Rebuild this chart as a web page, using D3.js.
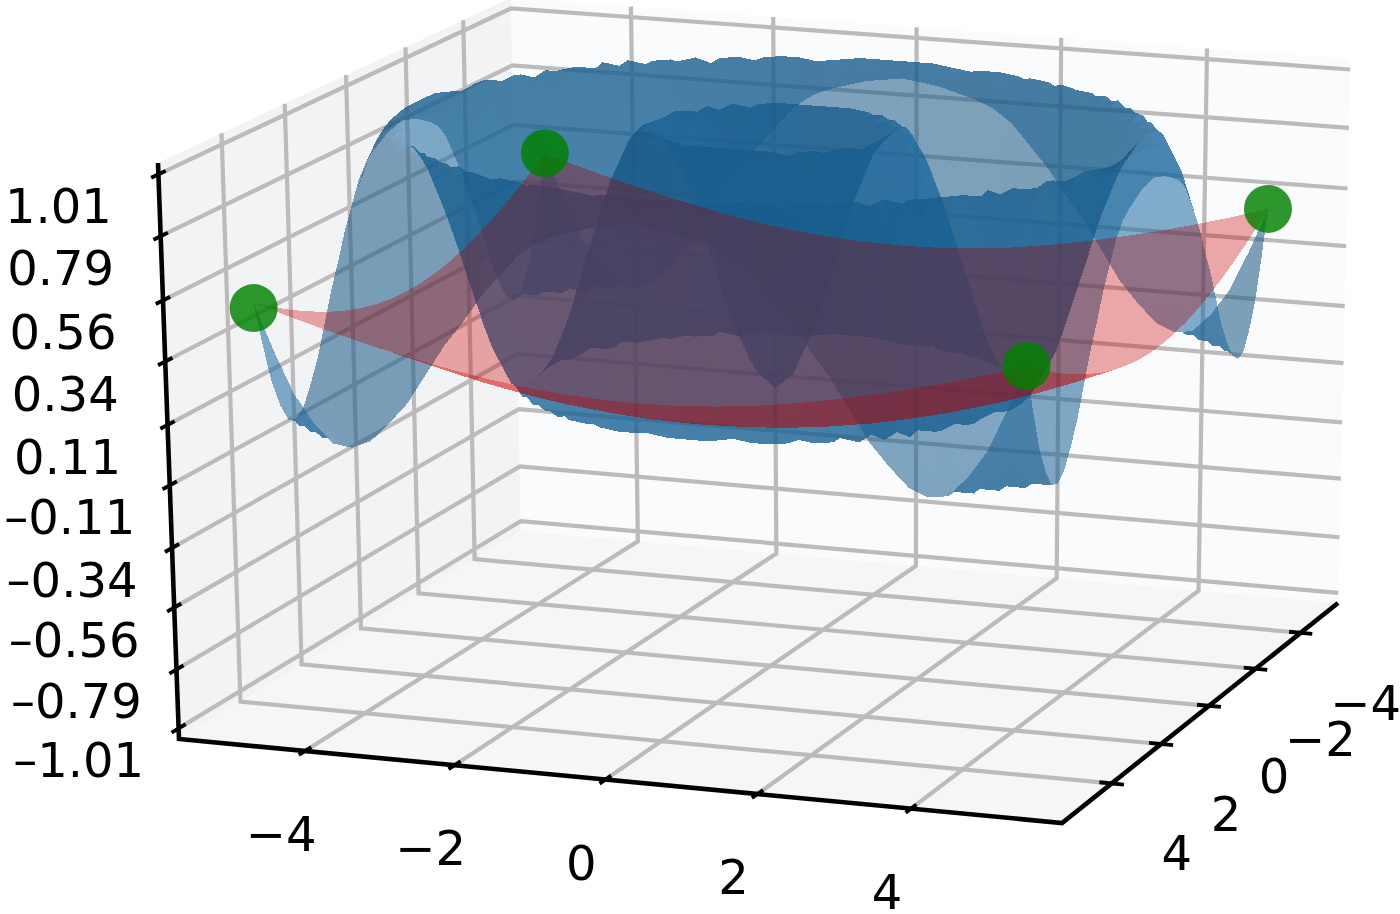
<!DOCTYPE html>
<html>
<head>
<meta charset="utf-8">
<script src="https://cdn.jsdelivr.net/npm/d3@7"></script>
<style>
  html, body { margin: 0; background: #fff; }
  svg { display: block; }
  text { font-family: "DejaVu Sans", sans-serif; font-size: 48px; fill: #000; }
</style>
</head>
<body>
<svg></svg>
<script>
// tick values and labels
let xTicks = [-4, -2, 0, 2, 4]
let yTicks = [-4, -2, 0, 2, 4]
let zTicks = [-1.01, -0.79, -0.56, -0.34, -0.11, 0.11, 0.34, 0.56, 0.79, 1.01]

// blue surface, heights. It is a set of rings, so one
// quadrant is read (|x|, |y| = blueSteps) and mirrored to the other three
let blueSteps = [0, .25, .5, .75, 1, 1.25, 1.5, 1.75, 2, 2.25, 2.5, 2.75, 3, 3.25, 3.5, 3.75, 4, 4.25, 4.5, 4.75, 5]
let blueHeights = [
  [0, .06, .22, .46, .69, .87, .97, .94, .81, .59, .35, .14, .02, .01, .12, .32, .55, .78, .93, .97, .89],
  [.06, .12, .27, .49, .72, .89, .97, .93, .79, .57, .34, .14, .02, .01, .13, .32, .56, .79, .93, .97, .88],
  [.22, .27, .41, .59, .79, .92, .97, .91, .76, .53, .30, .11, .01, .02, .15, .35, .59, .80, .94, .97, .87],
  [.46, .49, .59, .74, .87, .96, .96, .86, .69, .48, .25, .08, 0, .04, .17, .39, .62, .82, .95, .96, .85],
  [.69, .72, .79, .87, .95, .97, .92, .79, .60, .39, .18, .05, 0, .07, .22, .44, .67, .85, .96, .95, .83],
  [.87, .89, .92, .96, .97, .93, .83, .68, .49, .28, .11, .01, .01, .11, .29, .50, .73, .89, .97, .93, .80],
  [.97, .97, .97, .96, .92, .83, .71, .53, .35, .17, .05, 0, .04, .17, .37, .59, .80, .93, .97, .90, .75],
  [.94, .93, .91, .86, .79, .68, .53, .37, .21, .08, .01, .01, .11, .26, .48, .68, .85, .96, .96, .85, .67],
  [.81, .79, .76, .69, .60, .49, .35, .21, .09, .02, 0, .07, .19, .38, .59, .78, .91, .97, .93, .80, .59],
  [.59, .57, .53, .48, .39, .28, .17, .08, .02, 0, .05, .16, .32, .50, .71, .86, .95, .96, .87, .71, .49],
  [.35, .34, .30, .25, .18, .11, .05, .01, 0, .05, .15, .29, .47, .65, .81, .93, .97, .92, .80, .61, .40],
  [.14, .14, .11, .08, .05, .01, 0, .01, .07, .16, .29, .45, .62, .79, .90, .97, .95, .85, .70, .49, .29],
  [.02, .02, .01, 0, 0, .01, .04, .11, .19, .32, .47, .62, .77, .89, .96, .96, .89, .76, .57, .37, .18],
  [.01, .01, .02, .04, .07, .11, .17, .26, .38, .50, .65, .79, .89, .96, .97, .91, .80, .63, .44, .25, .10],
  [.12, .13, .15, .17, .22, .29, .37, .48, .59, .71, .81, .90, .96, .97, .92, .81, .66, .48, .29, .14, .03],
  [.32, .32, .35, .39, .44, .50, .59, .68, .78, .86, .93, .97, .96, .91, .81, .67, .49, .32, .16, .05, 0],
  [.55, .56, .59, .62, .67, .73, .80, .85, .91, .95, .97, .95, .89, .80, .66, .49, .33, .17, .07, .01, .01],
  [.78, .79, .80, .82, .85, .89, .93, .96, .97, .96, .92, .85, .76, .63, .48, .32, .17, .07, .01, .01, .08],
  [.93, .93, .94, .95, .96, .97, .97, .96, .93, .87, .80, .70, .57, .44, .29, .16, .07, .01, .01, .07, .18],
  [.97, .97, .97, .96, .95, .93, .90, .85, .80, .71, .61, .49, .37, .25, .14, .05, .01, .01, .07, .17, .33],
  [.89, .88, .87, .85, .83, .80, .75, .67, .59, .49, .40, .29, .18, .10, .03, 0, .01, .08, .18, .33, .50]
]

// red bowl, same idea
let redSteps = [0, .5, 1, 1.5, 2, 2.5, 3, 3.5, 4, 4.5, 5]
let redHeights = [
  [-.06, -.057, -.048, -.033, -.01, .017, .052, .092, .138, .192, .25],
  [-.057, -.054, -.045, -.029, -.008, .021, .055, .095, .142, .194, .253],
  [-.048, -.045, -.035, -.02, .002, .03, .064, .105, .151, .204, .262],
  [-.033, -.029, -.02, -.004, .017, .045, .08, .12, .167, .219, .276],
  [-.01, -.008, .002, .017, .039, .068, .101, .142, .188, .241, .296],
  [.017, .021, .03, .045, .068, .095, .13, .169, .216, .268, .321],
  [.052, .055, .064, .08, .101, .13, .163, .204, .25, .299, .35],
  [.092, .095, .105, .12, .142, .169, .204, .244, .288, .334, .382],
  [.138, .142, .151, .167, .188, .216, .25, .288, .329, .372, .418],
  [.192, .194, .204, .219, .241, .268, .299, .334, .372, .414, .457],
  [.25, .253, .262, .276, .296, .321, .35, .382, .418, .457, .50]
]

// the four green points
let pointX = [-5, 5, -5, 5]
let pointY = [-5, -5, 5, 5]
let pointZ = [.5, .5, .48, .5]

let width = 1400
let height = 914

let svg = d3.select('svg').attr('width', width).attr('height', height)

// data -> unit box
let xScale = d3.scaleLinear().domain([-5.7, 5.95]).range([0, 1])
let yScale = d3.scaleLinear().domain([5.95, -5.7]).range([0, 1])
let zScale = d3.scaleLinear().domain([-1.05, 1.05]).range([0, 1])
let [xMin, xMax] = xScale.domain()
let [yMax, yMin] = yScale.domain()
let [zMin, zMax] = zScale.domain()

// the meshes sit a little off the ticks in the picture
let meshX = d3.scaleLinear().domain([-5, 5]).range([-5, 5.07])
let meshY = d3.scaleLinear().domain([-5, 5]).range([-5.05, 4.8])

// unit box -> screen, a perspective map fitted on the corners of the box
let frontLeft = [179, 739], frontRight = [1062, 823], backRight = [1338, 603], backLeft = [521, 531]
let topFront = [158, 163], topBack = [511, 3]

let makeCamera = () => {
    let [x0, y0] = frontLeft, [x1, y1] = frontRight, [x2, y2] = backRight, [x3, y3] = backLeft
    let dx1 = x1 - x2, dx2 = x3 - x2, sx = x0 - x1 + x2 - x3
    let dy1 = y1 - y2, dy2 = y3 - y2, sy = y0 - y1 + y2 - y3
    let den = dx1 * dy2 - dx2 * dy1
    let g = (sx * dy2 - dx2 * sy) / den
    let h = (dx1 * sy - sx * dy1) / den
    let a = x1 - x0 + g * x1, b = x3 - x0 + h * x3
    let d = y1 - y0 + g * y1, e = y3 - y0 + h * y3
    let w = (topBack[0] * h - b) / (topFront[0] - topBack[0])
    let p = topFront[0] * w - x0, q = topFront[1] * w - y0
    return { a, b, c: x0, d, e, f: y0, g, h, p, q, r: w - 1 }
}
let cam = makeCamera()

let depth = (x, y, z) => 1 + cam.g * xScale(x) + cam.h * yScale(y) + cam.r * zScale(z)

let project = (x, y, z) => {
    let u = xScale(x), v = yScale(y), t = zScale(z)
    let w = depth(x, y, z)
    return [(cam.a * u + cam.b * v + cam.c + cam.p * t) / w,
            (cam.d * u + cam.e * v + cam.f + cam.q * t) / w]
}

let line = d3.line()
let polygon = (pts) => line(pts) + 'Z'

let drawPanes = () => {
    let panes = [
        { fill: '#f2f3f5', pts: [[xMin, yMax, zMin], [xMin, yMin, zMin], [xMin, yMin, zMax], [xMin, yMax, zMax]] },
        { fill: '#fafbfc', pts: [[xMin, yMin, zMin], [xMax, yMin, zMin], [xMax, yMin, zMax], [xMin, yMin, zMax]] },
        { fill: '#f6f6f7', pts: [[xMin, yMax, zMin], [xMax, yMax, zMin], [xMax, yMin, zMin], [xMin, yMin, zMin]] }
    ]
    svg.append('g').selectAll('path')
        .data(panes)
        .enter()
        .append('path')
        .attr('d', (p) => polygon(p.pts.map((c) => project(...c))))
        .attr('fill', (p) => p.fill)
}

let drawGrid = () => {
    let lines = []
    xTicks.forEach((t) => {
        lines.push([[t, yMax, zMin], [t, yMin, zMin], [t, yMin, zMax]])
    })
    yTicks.forEach((t) => {
        lines.push([[xMax, t, zMin], [xMin, t, zMin], [xMin, t, zMax]])
    })
    zTicks.forEach((t) => {
        lines.push([[xMin, yMax, t], [xMin, yMin, t], [xMax, yMin, t]])
    })
    svg.append('g').selectAll('path')
        .data(lines)
        .enter()
        .append('path')
        .attr('d', (l) => line(l.map((c) => project(...c))))
        .attr('fill', 'none')
        .attr('stroke', '#bcbaba')
        .attr('stroke-width', 4.2)
}

let drawAxes = () => {
    let axes = [
        [[xMin, yMax, zMax], [xMin, yMax, zMin], [xMax, yMax, zMin], [xMax, yMin, zMin]]
    ]
    let ticks = []
    xTicks.forEach((t) => ticks.push([[t, yMax + .2, zMin], [t, yMax - .2, zMin]]))
    yTicks.forEach((t) => ticks.push([[xMax + .16, t, zMin], [xMax - .16, t, zMin]]))
    zTicks.forEach((t) => ticks.push([[xMin, yMax + .22, t], [xMin, yMax - .22, t]]))

    let g = svg.append('g').attr('fill', 'none').attr('stroke', '#000')
    g.selectAll('path.axis')
        .data(axes)
        .enter()
        .append('path')
        .attr('class', 'axis')
        .attr('d', (l) => line(l.map((c) => project(...c))))
        .attr('stroke-width', 4.6)
    g.selectAll('path.tick')
        .data(ticks)
        .enter()
        .append('path')
        .attr('class', 'tick')
        .attr('d', (l) => line(l.map((c) => project(...c))))
        .attr('stroke-width', 3.8)
}

let signed = (v, digits, sign) => (v < 0 ? sign : '') + Math.abs(v).toFixed(digits)

let drawLabels = () => {
    let g = svg.append('g').attr('text-anchor', 'middle')
    g.selectAll('text.x')
        .data(xTicks)
        .enter()
        .append('text')
        .attr('class', 'x')
        .attr('x', (t) => project(t, yMax, zMin)[0] - 24)
        .attr('y', (t) => project(t, yMax, zMin)[1] + 100)
        .text((t) => signed(t, 0, '\u2212'))
    g.selectAll('text.y')
        .data(yTicks)
        .enter()
        .append('text')
        .attr('class', 'y')
        .attr('x', (t) => project(xMax, t, zMin)[0] + 65)
        .attr('y', (t) => project(xMax, t, zMin)[1] + 87)
        .text((t) => signed(t, 0, '\u2212'))
    g.selectAll('text.z')
        .data(zTicks)
        .enter()
        .append('text')
        .attr('class', 'z')
        .attr('x', (t) => project(xMin, yMax, t)[0] - 100)
        .attr('y', (t) => project(xMin, yMax, t)[1] + 49)
        .text((t) => signed(t, 2, '\u2013'))
}

// mirror a quadrant into a full grid of cells, sorted far to near
let makeCells = (steps, heights) => {
    let n = steps.length - 1
    let axis = d3.range(-n, n + 1)
    let value = (i) => Math.sign(i) * steps[Math.abs(i)]
    let level = (i, j) => heights[Math.abs(j)][Math.abs(i)]
    let cells = []
    for (let j = 0; j < axis.length - 1; j++) {
        for (let i = 0; i < axis.length - 1; i++) {
            let corners = [[axis[i], axis[j]], [axis[i + 1], axis[j]], [axis[i + 1], axis[j + 1]], [axis[i], axis[j + 1]]]
                .map(([a, b]) => [meshX(value(a)), meshY(value(b)), level(a, b)])
            cells.push(corners)
        }
    }
    return cells.sort((p, q) => d3.mean(q, (c) => depth(...c)) - d3.mean(p, (c) => depth(...c)))
}

// same kind of shading as a 3d plot: darker when a cell faces away from the light
let shade = (cell, color, low, high) => {
    let [a, b, c, d] = cell.map(([x, y, z]) => [xScale(x), yScale(y), zScale(z)])
    let e = [c[0] - a[0], c[1] - a[1], c[2] - a[2]]
    let f = [d[0] - b[0], d[1] - b[1], d[2] - b[2]]
    let n = [e[1] * f[2] - e[2] * f[1], e[2] * f[0] - e[0] * f[2], e[0] * f[1] - e[1] * f[0]]
    let len = Math.hypot(...n)
    let dot = (-.667 * n[0] - .667 * n[1] + .333 * n[2]) / len
    let k = low + (high - low) * (dot + 1) / 2
    let col = d3.rgb(color)
    return d3.rgb(col.r * k, col.g * k, col.b * k).formatRgb()
}

let drawBlue = () => {
    svg.append('g')
        .style('filter', 'blur(0.7px)')
        .selectAll('path')
        .data(makeCells(blueSteps, blueHeights))
        .enter()
        .append('path')
        .attr('d', (c) => polygon(c.map((p) => project(...p))))
        .attr('fill', (c) => shade(c, '#1f77b4', .72, .9))
        .attr('fill-opacity', .55)
        .attr('shape-rendering', 'crispEdges')
}

// red darkens what is under it while staying pink over the white panes:
// a multiply pass, then a thin plain red pass
let drawRed = () => {
    let cells = makeCells(redSteps, redHeights)
    let paths = (g) => g.selectAll('path')
        .data(cells)
        .enter()
        .append('path')
        .attr('d', (c) => polygon(c.map((p) => project(...p))))
        .attr('shape-rendering', 'crispEdges')

    svg.append('g')
        .style('filter', 'blur(0.7px)')
        .style('mix-blend-mode', 'multiply')
        .call(paths)
        .selectAll('path')
        .attr('fill', '#ecd4d4')
        .style('mix-blend-mode', 'multiply')

    svg.append('g')
        .style('filter', 'blur(0.7px)')
        .call(paths)
        .selectAll('path')
        .attr('fill', '#ff0000')
        .attr('fill-opacity', .2)
}

let drawPoints = () => {
    svg.append('g').selectAll('circle')
        .data(pointX)
        .enter()
        .append('circle')
        .attr('cx', (x, i) => project(meshX(x), meshY(pointY[i]), pointZ[i])[0])
        .attr('cy', (x, i) => project(meshX(x), meshY(pointY[i]), pointZ[i])[1])
        .attr('r', 24)
        .attr('fill', 'green')
        .attr('fill-opacity', .82)
}

drawPanes()
drawGrid()
drawAxes()
drawLabels()
drawBlue()
drawRed()
drawPoints()
</script>
</body>
</html>
